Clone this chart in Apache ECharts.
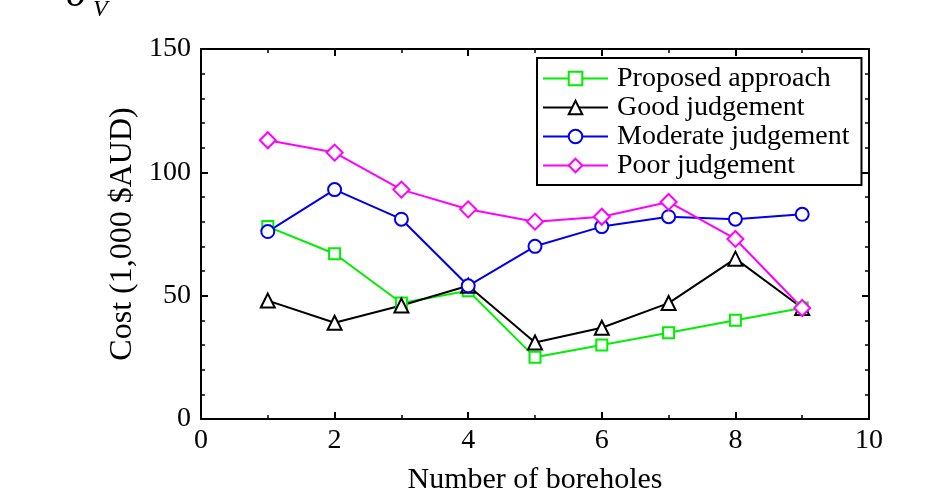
<!DOCTYPE html>
<html>
<head>
<meta charset="utf-8">
<script src="https://cdn.jsdelivr.net/npm/echarts@6/dist/echarts.min.js"></script>
<style>
html,body{margin:0;padding:0;background:#fff;}
#chart{width:936px;height:492px;}
</style>
</head>
<body>
<div id="chart"></div>
<script>
// ---- data ----
var boreholes = [1, 2, 3, 4, 5, 6, 7, 8, 9];
var proposed = [78, 67, 47, 52, 25, 30, 35, 40, 45];
var good = [48, 39, 46, 54, 31, 37, 47, 65, 45];
var moderate = [76, 93, 81, 54, 70, 78, 82, 81, 83];
var poor = [113, 108, 93, 85, 80, 82, 88, 73, 45];
var seriesNames = ['Proposed approach', 'Good judgement', 'Moderate judgement', 'Poor judgement'];
var xTitle = 'Number of boreholes';
var yTitle = 'Cost (1,000 $AUD)';

function pairs(vals) {
  return boreholes.map(function (b, i) { return [b, vals[i]]; });
}

var FONT = 'Liberation Serif, Times New Roman, serif';
var chart = echarts.init(document.getElementById('chart'), null, {renderer: 'canvas'});

function mkSeries(name, vals, color, symbol, size) {
  return {
    type: 'line',
    name: name,
    data: pairs(vals),
    symbol: symbol,
    symbolSize: size,
    showAllSymbol: true,
    lineStyle: {color: color, width: 2},
    itemStyle: {color: color, borderColor: color, borderWidth: 2},
    emphasis: {disabled: true},
    animation: false,
    z: 3
  };
}

function axisLine() { return {show: true, onZero: false, lineStyle: {color: '#000', width: 2}}; }
function axisTick() { return {show: true, inside: true, length: 7, lineStyle: {color: '#000', width: 2}}; }
function minorTick(n) { return {show: true, splitNumber: n, length: 4, lineStyle: {color: '#000', width: 1.5}}; }

chart.setOption({
  backgroundColor: '#fff',
  animation: false,
  textStyle: {fontFamily: FONT, color: '#000'},
  grid: {left: 201, right: 67, top: 49, bottom: 73, containLabel: false, outerBoundsMode: 'none'},
  legend: {
    orient: 'vertical',
    left: 537,
    top: 58,
    padding: [6, 12, 5, 5],
    itemGap: 0,
    itemWidth: 65,
    itemHeight: 17,
    borderColor: '#000',
    borderWidth: 2,
    backgroundColor: '#fff',
    data: seriesNames,
    textStyle: {fontFamily: FONT, fontSize: 28, color: '#000', lineHeight: 29, padding: [0, 0, 0, 4]}
  },
  xAxis: [
    {
      type: 'value', gridIndex: 0, min: 0, max: 10, interval: 2, position: 'bottom',
      name: xTitle, nameLocation: 'middle', nameGap: 46,
      nameTextStyle: {fontFamily: FONT, fontSize: 30, color: '#000'},
      axisLine: axisLine(), axisTick: axisTick(), minorTick: minorTick(2), splitLine: {show: false},
      axisLabel: {fontFamily: FONT, fontSize: 28, color: '#000', margin: 8}
    },
    {
      type: 'value', gridIndex: 0, min: 0, max: 10, interval: 2, position: 'top',
      axisLine: axisLine(), axisTick: axisTick(), minorTick: minorTick(2), splitLine: {show: false},
      axisLabel: {show: false}
    }
  ],
  yAxis: [
    {
      type: 'value', gridIndex: 0, min: 0, max: 150, interval: 50, position: 'left',
      name: yTitle, nameLocation: 'middle', nameGap: 58, nameRotate: 90,
      nameTextStyle: {fontFamily: FONT, fontSize: 32, color: '#000'},
      axisLine: axisLine(), axisTick: axisTick(), minorTick: minorTick(5), splitLine: {show: false},
      axisLabel: {fontFamily: FONT, fontSize: 28, color: '#000', margin: 10}
    },
    {
      type: 'value', gridIndex: 0, min: 0, max: 150, interval: 50, position: 'right',
      axisLine: axisLine(), axisTick: axisTick(), minorTick: minorTick(5), splitLine: {show: false},
      axisLabel: {show: false}
    }
  ],
  graphic: [
    {type: 'text', left: 66, top: -26, style: {text: 'δ', fontFamily: FONT, fontStyle: 'italic', fontSize: 42, fill: '#000'}},
    {type: 'text', left: 93, top: -2, style: {text: 'V', fontFamily: FONT, fontStyle: 'italic', fontSize: 24, fill: '#000'}}
  ],
  series: [
    mkSeries(seriesNames[0], proposed, '#00ee00', 'emptyRect', 11),
    mkSeries(seriesNames[1], good, '#000000', 'emptyTriangle', 14),
    mkSeries(seriesNames[2], moderate, '#0000ee', 'emptyCircle', 13),
    mkSeries(seriesNames[3], poor, '#ff00ff', 'emptyDiamond', 16)
  ]
});
</script>
</body>
</html>
